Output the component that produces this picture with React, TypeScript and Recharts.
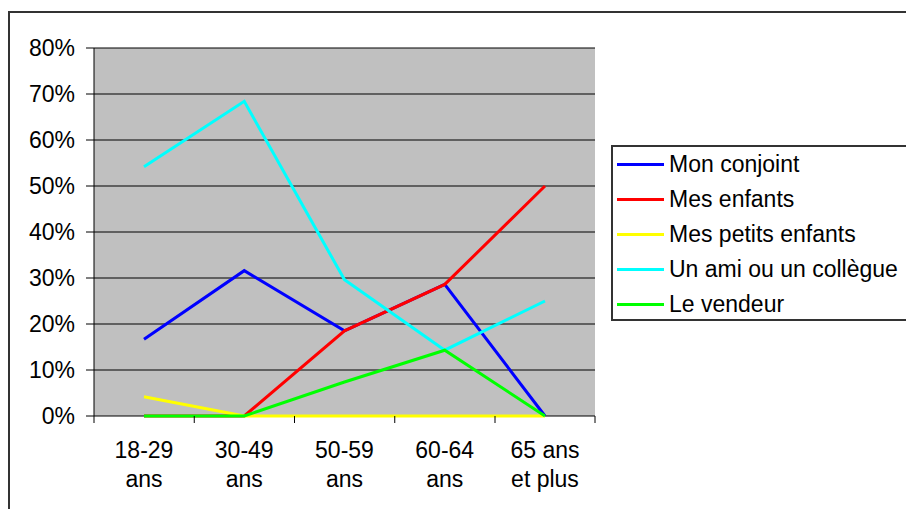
import { CartesianGrid, Line, LineChart, XAxis, YAxis } from 'recharts';

const categories = ['18-29 ans', '30-49 ans', '50-59 ans', '60-64 ans', '65 ans et plus'];
const categoryLines = [
  ['18-29', 'ans'],
  ['30-49', 'ans'],
  ['50-59', 'ans'],
  ['60-64', 'ans'],
  ['65 ans', 'et plus'],
];

const monConjoint = [16.7, 31.6, 18.5, 28.6, 0];
const mesEnfants = [0, 0, 18.5, 28.6, 50];
const mesPetitsEnfants = [4.2, 0, 0, 0, 0];
const unAmi = [54.2, 68.4, 29.6, 14.3, 25];
const leVendeur = [0, 0, 7.4, 14.3, 0];

const yTicks = [0, 10, 20, 30, 40, 50, 60, 70, 80];

const series = [
  { key: 'conjoint', name: 'Mon conjoint', color: '#0000FF', values: monConjoint },
  { key: 'enfants', name: 'Mes enfants', color: '#FF0000', values: mesEnfants },
  { key: 'petits', name: 'Mes petits enfants', color: '#FFFF00', values: mesPetitsEnfants },
  { key: 'ami', name: 'Un ami ou un collègue', color: '#00FFFF', values: unAmi },
  { key: 'vendeur', name: 'Le vendeur', color: '#00FF00', values: leVendeur },
];

const data = categories.map((cat, i) => {
  const row: Record<string, string | number> = { cat };
  series.forEach((s) => {
    row[s.key] = s.values[i];
  });
  return row;
});

const FONT = '"Liberation Sans", Arial, sans-serif';
const FONT_SIZE = 23;
const HALF_BAND = 50; // same as the x-axis padding, so ticks fall between categories
const W = 898;
const H = 501;

function XTick(props: any) {
  const { x, y, payload } = props;
  const idx = categories.indexOf(payload.value);
  const lines = categoryLines[idx] || [payload.value];
  return (
    <g>
      <line x1={x - HALF_BAND} y1={y} x2={x - HALF_BAND} y2={y + 7} stroke="#000" strokeWidth={1} />
      {idx === categories.length - 1 && (
        <line x1={x + HALF_BAND} y1={y} x2={x + HALF_BAND} y2={y + 7} stroke="#000" strokeWidth={1} />
      )}
      <text x={x} y={y + 42} textAnchor="middle" fill="#000" fontSize={FONT_SIZE} fontFamily={FONT}>
        {lines[0]}
      </text>
      {lines[1] && (
        <text x={x} y={y + 71} textAnchor="middle" fill="#000" fontSize={FONT_SIZE} fontFamily={FONT}>
          {lines[1]}
        </text>
      )}
    </g>
  );
}

function LegendBox() {
  return (
    <div
      style={{
        position: 'absolute',
        left: 603,
        top: 137,
        width: 300,
        height: 172,
        borderTop: '2px solid #333',
        borderLeft: '2px solid #333',
        borderBottom: '2px solid #333',
        background: '#fff',
        fontFamily: FONT,
        fontSize: FONT_SIZE,
        color: '#000',
      }}
    >
      {series.map((s) => (
        <div key={s.key} style={{ height: 35, display: 'flex', alignItems: 'center', whiteSpace: 'nowrap' }}>
          <span style={{ display: 'inline-block', width: 47, height: 3, background: s.color, marginLeft: 4, marginRight: 5 }} />
          <span>{s.name}</span>
        </div>
      ))}
    </div>
  );
}

export default function App() {
  return (
    <>
      <style>{'html,body{margin:0;padding:0;overflow:hidden;}'}</style>
      <div style={{ position: 'relative', width: W, height: H, marginLeft: 8, paddingTop: 8, overflow: 'hidden' }}>
        <div
          style={{
            position: 'absolute',
            left: 0,
            top: 11,
            width: 1000,
            height: 1000,
            borderTop: '2px solid #333',
            borderLeft: '2px solid #333',
          }}
        />
        <LineChart
          width={W}
          height={H}
          data={data}
          margin={{ top: 40, right: 311, left: 0, bottom: 13 }}
          style={{ fontFamily: FONT }}
        >
          <CartesianGrid fill="#C0C0C0" stroke="#000" vertical={false} />
          <XAxis
            dataKey="cat"
            height={80}
            padding={{ left: HALF_BAND, right: HALF_BAND }}
            tickSize={0}
            tickMargin={0}
            tickLine={false}
            axisLine={false}
            tick={<XTick />}
            interval={0}
          />
          <YAxis
            domain={[0, 80]}
            ticks={yTicks}
            width={86}
            tickSize={8}
            tickMargin={11}
            interval={0}
            tickFormatter={(v: number) => `${v}%`}
            tick={{ fill: '#000', fontSize: FONT_SIZE, fontFamily: FONT }}
            tickLine={{ stroke: '#000' }}
            axisLine={{ stroke: '#000' }}
          />
          <YAxis
            yAxisId="r"
            orientation="right"
            domain={[0, 80]}
            width={0}
            tick={false}
            tickLine={false}
            axisLine={{ stroke: '#808080', strokeWidth: 2 }}
          />
          {series.map((s) => (
            <Line
              key={s.key}
              dataKey={s.key}
              name={s.name}
              stroke={s.color}
              strokeWidth={3}
              dot={false}
              activeDot={false}
              isAnimationActive={false}
            />
          ))}
        </LineChart>
        <div style={{ position: 'absolute', left: 0, top: 8, width: W, height: H, pointerEvents: 'none' }}>
          <LegendBox />
        </div>
      </div>
    </>
  );
}
